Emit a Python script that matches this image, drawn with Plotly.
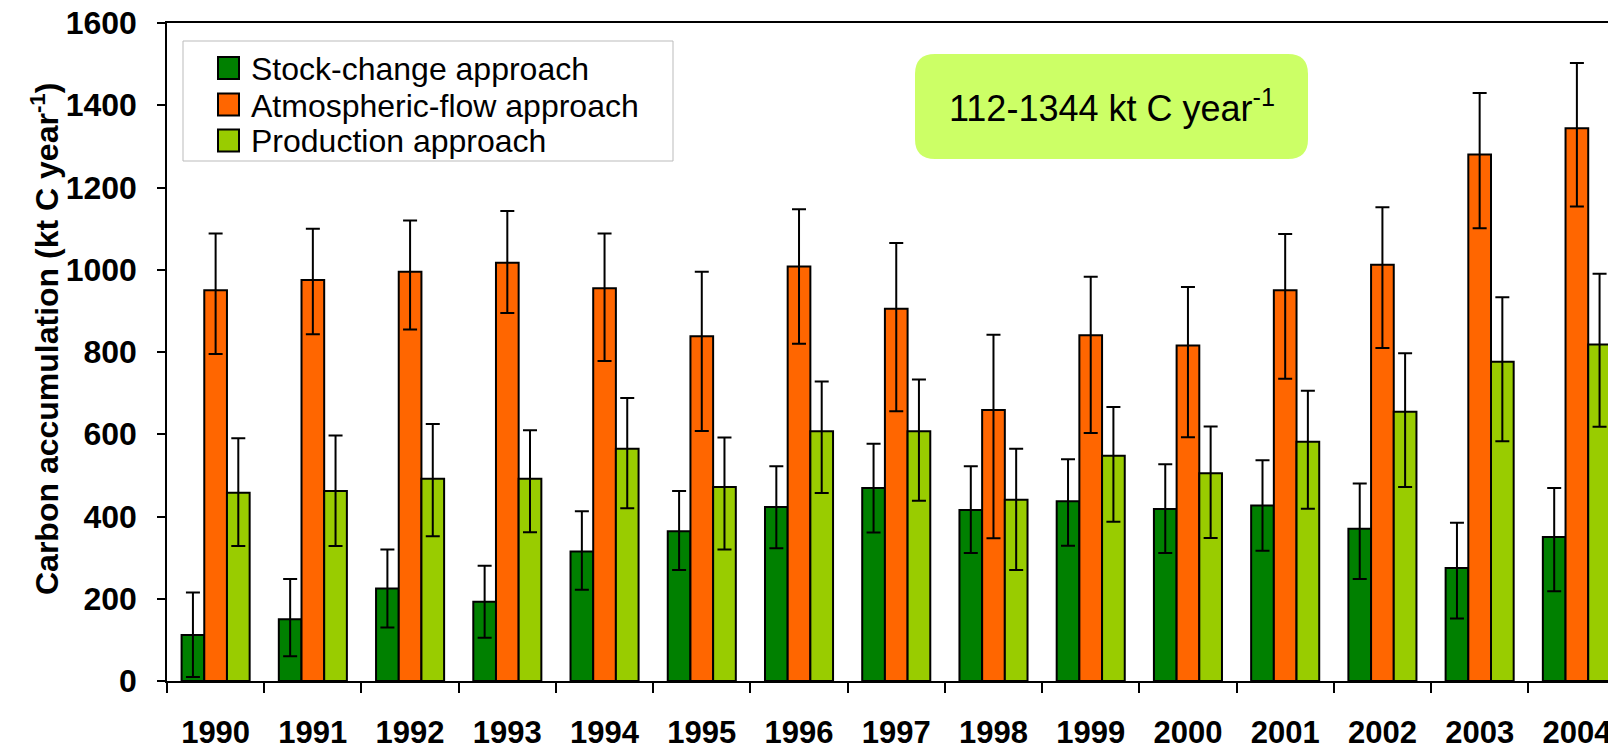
import plotly.graph_objects as go

years = [str(y) for y in range(1990, 2005)]

stock = [112, 150, 225, 193, 315, 364, 423, 469, 416, 437, 418, 427, 370, 275, 350]
stock_hi = [215, 248, 320, 280, 413, 462, 522, 577, 522, 539, 527, 537, 480, 385, 469]
stock_lo = [10, 60, 130, 105, 222, 270, 323, 361, 311, 329, 311, 317, 248, 152, 218]

atmos = [950, 975, 995, 1017, 955, 838, 1008, 905, 659, 841, 816, 950, 1012, 1280, 1344]
atmos_hi = [1088, 1100, 1120, 1143, 1088, 995, 1147, 1065, 842, 983, 958, 1087, 1152, 1430, 1503]
atmos_lo = [795, 843, 855, 895, 778, 608, 820, 656, 347, 603, 593, 735, 810, 1101, 1154]

prod = [458, 462, 492, 492, 565, 472, 607, 607, 441, 548, 505, 582, 655, 776, 818]
prod_hi = [590, 597, 625, 610, 688, 592, 728, 733, 565, 666, 619, 706, 797, 933, 990]
prod_lo = [328, 328, 352, 362, 420, 320, 457, 438, 270, 387, 348, 419, 472, 583, 618]

names = ["Stock-change approach", "Atmospheric-flow approach", "Production approach"]
colors = ["#008000", "#FF6600", "#99CC00"]
range_text = "112-1344 kt C year<sup>-1</sup>"
y_title = "Carbon accumulation (kt C year<sup>-1</sup>)"

FONT = "Liberation Sans, Arial, sans-serif"

fig = go.Figure()
for name, col, vals, hi, lo in zip(names, colors,
                                   [stock, atmos, prod],
                                   [stock_hi, atmos_hi, prod_hi],
                                   [stock_lo, atmos_lo, prod_lo]):
    fig.add_trace(go.Bar(
        x=years, y=vals, name=name,
        marker=dict(color=col, line=dict(color="black", width=2)),
        error_y=dict(type="data", symmetric=False,
                     array=[h - v for h, v in zip(hi, vals)],
                     arrayminus=[v - l for v, l in zip(vals, lo)],
                     color="black", thickness=2, width=7),
    ))

W, H = 1608, 752
PL, PR, PT, PB = 167, 1608, 23, 681          # plot area in page pixels
pw, ph = PR - PL, PB - PT


def px(x):
    return (x - PL) / pw


def py(y):
    return (PB - y) / ph


shapes = []
annotations = []

# rounded range box
bx0, bx1, by0, by1 = 915, 1308, 54, 159
r = 20
path = (f"M {px(bx0 + r)},{py(by0)} L {px(bx1 - r)},{py(by0)} "
        f"Q {px(bx1)},{py(by0)} {px(bx1)},{py(by0 + r)} "
        f"L {px(bx1)},{py(by1 - r)} Q {px(bx1)},{py(by1)} {px(bx1 - r)},{py(by1)} "
        f"L {px(bx0 + r)},{py(by1)} Q {px(bx0)},{py(by1)} {px(bx0)},{py(by1 - r)} "
        f"L {px(bx0)},{py(by0 + r)} Q {px(bx0)},{py(by0)} {px(bx0 + r)},{py(by0)} Z")
shapes.append(dict(type="path", xref="paper", yref="paper", path=path,
                   fillcolor="#CCFF66", line=dict(width=0), layer="below"))
annotations.append(dict(text=range_text, xref="paper", yref="paper",
                        x=px((bx0 + bx1) / 2), y=py((by0 + by1) / 2 - 1),
                        xanchor="center", yanchor="middle", showarrow=False,
                        font=dict(size=36, family=FONT, color="black")))

# legend box drawn by hand
lx0, lx1, ly0, ly1 = 183, 673, 41, 161
shapes.append(dict(type="rect", xref="paper", yref="paper",
                   x0=px(lx0), x1=px(lx1), y0=py(ly1), y1=py(ly0),
                   fillcolor="white", line=dict(color="#BBBBBB", width=1)))
row_y = [68, 104.5, 140.5]
for name, col, yc in zip(names, colors, row_y):
    shapes.append(dict(type="rect", xref="paper", yref="paper",
                       x0=px(218), x1=px(239), y0=py(yc + 11), y1=py(yc - 11),
                       fillcolor=col, line=dict(color="black", width=2)))
    annotations.append(dict(text=name, xref="paper", yref="paper",
                            x=px(249), y=py(yc + 1), xanchor="left", yanchor="middle",
                            showarrow=False,
                            font=dict(size=32, family=FONT, color="black")))

annotations.append(dict(text=y_title, xref="paper", yref="paper",
                        x=px(45), y=py(339), xanchor="center", yanchor="middle",
                        textangle=-90, showarrow=False,
                        font=dict(size=32, family=FONT, color="black", weight="bold")))

fig.update_layout(
    width=W, height=H,
    margin=dict(l=PL, r=W - PR, t=PT, b=H - PB, autoexpand=False),
    plot_bgcolor="white", paper_bgcolor="white",
    barmode="group", bargap=0.3, bargroupgap=0,
    font=dict(family=FONT, color="black"),
    showlegend=False,
    xaxis=dict(
        type="category", range=[-0.5, 14.32], automargin=False,
        showline=True, linecolor="black", linewidth=1.5, mirror=True,
        ticks="outside", tickson="boundaries", ticklen=10, tickcolor="black", tickwidth=1.5,
        ticklabelstandoff=23,
        tickfont=dict(size=31, family=FONT, weight="bold"),
        showgrid=False, zeroline=False,
    ),
    yaxis=dict(
        range=[0, 1600], dtick=200, tick0=0, automargin=False,
        showline=True, linecolor="black", linewidth=1.5,
        ticks="outside", ticklen=8, tickcolor="black", tickwidth=1.5,
        ticklabelstandoff=14,
        tickfont=dict(size=32, family=FONT, weight="bold"),
        showgrid=False, zeroline=False,
    ),
    shapes=shapes,
    annotations=annotations,
)

fig.write_html(
    "out.html",
    config={"displayModeBar": False},
    post_script="document.body.style.margin='0';document.body.style.overflow='hidden';",
)
